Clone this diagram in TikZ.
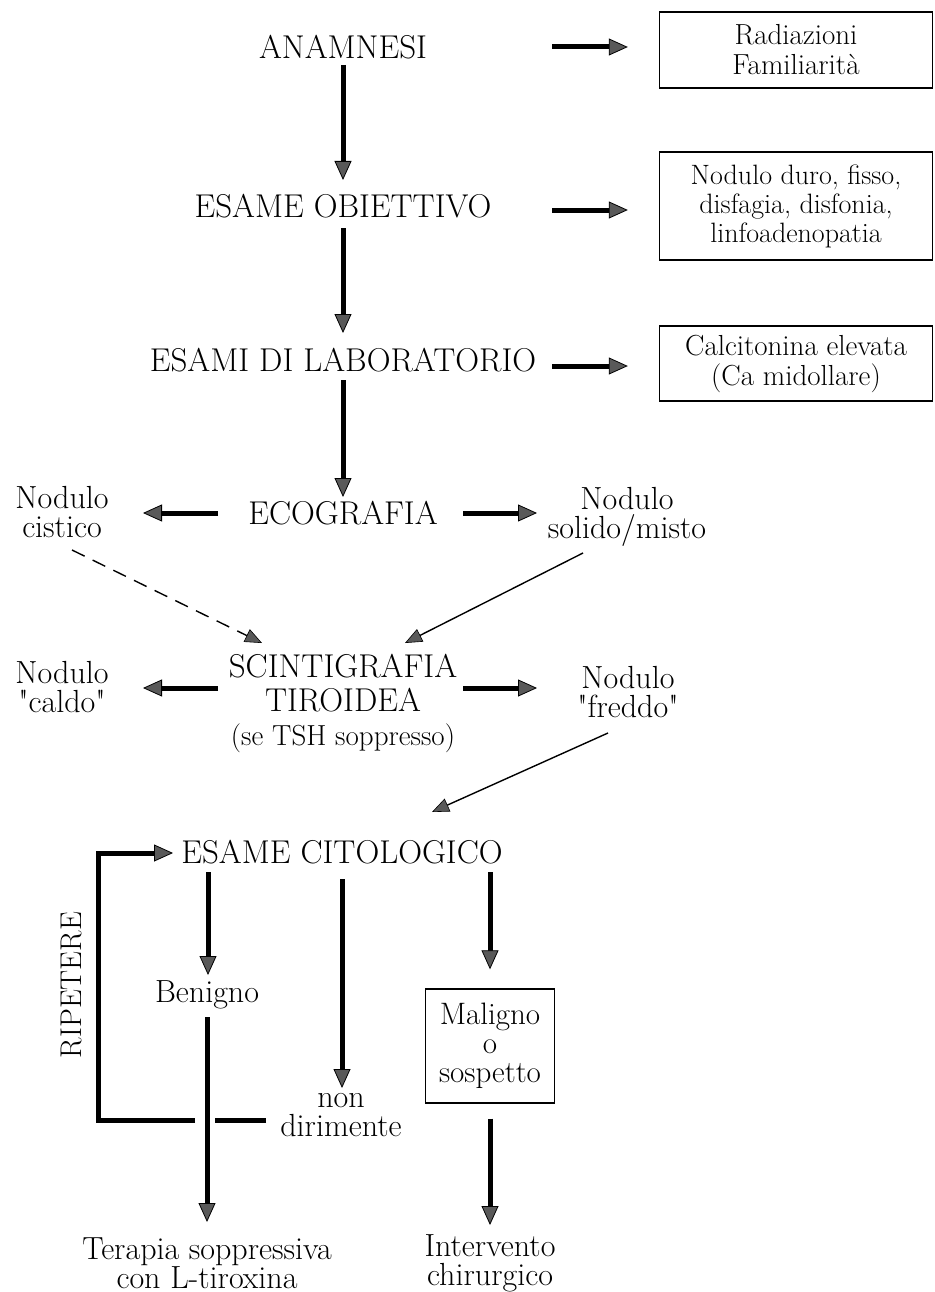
\documentclass[tikz,border=0pt]{standalone}
\usepackage{fontspec}
\usetikzlibrary{arrows.meta,calc}
\definecolor{headgray}{gray}{0.35}
\tikzset{
  caps/.style={font=\fontsize{33}{35}\selectfont, align=center, inner sep=0pt},
  lbl/.style={font=\fontsize{32}{29}\selectfont, align=center, inner sep=0pt},
  boxtxt/.style={draw, line width=1.4pt, font=\fontsize{29}{30}\selectfont, align=center, inner sep=0pt, minimum width=273pt},
  bigarr/.style={line width=5pt, -{Triangle[length=19pt,width=17pt,fill=headgray,line width=0.8pt]}},
  thinarr/.style={line width=1.4pt, -{Triangle[length=17pt,width=14pt,fill=headgray,line width=0.6pt]}},
  plainbar/.style={line width=5pt},
}
\newcommand{\dq}{\textquotedbl}
\begin{document}
\begin{tikzpicture}[x=1pt,y=-1pt]
\useasboundingbox (0,0) rectangle (934,1292);
% main column
\node[caps] (anam) at (343,47) {ANAMNESI};
\node[caps] (obj) at (343,206) {ESAME OBIETTIVO};
\node[caps] (lab) at (343,360) {ESAMI DI LABORATORIO};
\node[caps] (eco) at (343,513) {ECOGRAFIA};
\node[caps, font=\fontsize{33}{34}\selectfont] (scint) at (343,683) {SCINTIGRAFIA\\TIROIDEA};
\node[lbl, font=\fontsize{29}{31}\selectfont] (tsh) at (343,738) {(se TSH soppresso)};
\node[caps] (cito) at (342,852) {ESAME CITOLOGICO};
% right boxes
\node[boxtxt, minimum height=76pt] (r1) at (796,50) {Radiazioni\\Familiarità};
\node[boxtxt, minimum height=108pt, font=\fontsize{28}{29}\selectfont] (r2) at (796,206) {Nodulo duro, fisso,\\disfagia, disfonia,\\linfoadenopatia};
\node[boxtxt, minimum height=75pt] (r3) at (796,363.5) {Calcitonina elevata\\(Ca midollare)};
% side nodes
\node[lbl] (cist) at (62,512) {Nodulo\\cistico};
\node[lbl] (solid) at (627,517) {Nodulo\\solido/misto};
\node[lbl] (caldo) at (62,687) {Nodulo\\\dq caldo\dq};
\node[lbl] (freddo) at (628,692) {Nodulo\\\dq freddo\dq};
% bottom
\node[lbl] (ben) at (207,995) {Benigno};
\node[lbl] (nondir) at (341,1115) {non\\dirimente};
\node[draw, line width=1.4pt, font=\fontsize{31}{29}\selectfont, align=center, inner sep=0pt, minimum width=129pt, minimum height=114pt] (mal) at (490,1046) {Maligno\\o\\sospetto};
\node[lbl] (ter) at (207,1263) {Terapia soppressiva\\con L-tiroxina};
\node[lbl] (inter) at (490,1263) {Intervento\\chirurgico};
\node[caps, font=\fontsize{30}{30}\selectfont, rotate=90] (rip) at (71,985) {RIPETERE};
% vertical arrows
\draw[bigarr] ([shift={(0,18)}]anam.center) -- ([shift={(0,-26)}]obj.center);
\draw[bigarr] ([shift={(0,22)}]obj.center) -- ([shift={(0,-27)}]lab.center);
\draw[bigarr] ([shift={(0,20)}]lab.center) -- ([shift={(0,-16)}]eco.center);
% to boxes
\draw[bigarr] ([shift={(209,0)}]anam.center) -- ([shift={(-31,-3)}]r1.west);
\draw[bigarr] ([shift={(209,4)}]obj.center) -- ([shift={(-31,4)}]r2.west);
\draw[bigarr] ([shift={(209,6)}]lab.center) -- ([shift={(-31,2.5)}]r3.west);
% ecografia sides
\draw[bigarr] ([shift={(-125,0)}]eco.center) -- ([shift={(81,1)}]cist.center);
\draw[bigarr] ([shift={(120,0)}]eco.center) -- ([shift={(-90,-4)}]solid.center);
% scintigrafia sides
\draw[bigarr] ([shift={(-125,5)}]scint.center) -- ([shift={(81,1)}]caldo.center);
\draw[bigarr] ([shift={(120,5)}]scint.center) -- ([shift={(-91,-4)}]freddo.center);
% thin diagonals
\draw[thinarr, dash pattern=on 14pt off 9pt] ([shift={(10,38)}]cist.center) -- ([shift={(-81,-40)}]scint.center);
\draw[thinarr] ([shift={(-44,36)}]solid.center) -- ([shift={(62,-40)}]scint.center);
\draw[thinarr] ([shift={(-20,41)}]freddo.center) -- ([shift={(90,-40)}]cito.center);
% citologico branches
\draw[bigarr] ([shift={(-134,20)}]cito.center) -- ([shift={(1,-20)}]ben.center);
\draw[bigarr] ([shift={(0,27)}]cito.center) -- ([shift={(1,-27)}]nondir.center);
\draw[bigarr] ([shift={(148,20)}]cito.center) -- ([shift={(0,-19)}]mal.north);
\draw[bigarr] ([shift={(0,22)}]ben.center) -- ([shift={(0,-41)}]ter.center);
\draw[bigarr] ([shift={(0,15)}]mal.south) -- ([shift={(0,-38)}]inter.center);
% repeat loop
\coordinate (la) at ([shift={(-75,5)}]nondir.center);
\coordinate (lb) at ([shift={(8,0)}]la -| ben.center);
\coordinate (lc) at ([shift={(-12,0)}]la -| ben.center);
\coordinate (ld) at (98,0);
\coordinate (le) at (173,853);
\draw[plainbar] (la) -- (lb);
\draw[bigarr] (lc) -- (lc -| ld) -- (ld |- le) -- (le);
\end{tikzpicture}
\end{document}
